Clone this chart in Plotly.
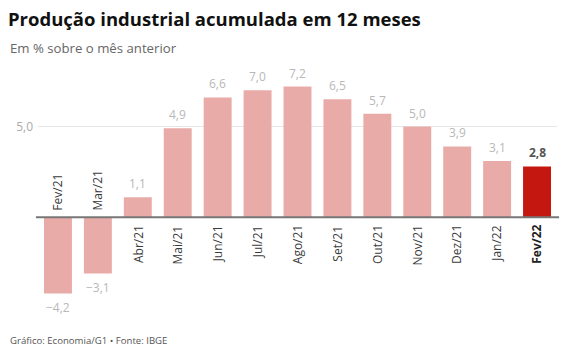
import plotly.graph_objects as go

categories = ["Fev/21", "Mar/21", "Abr/21", "Mai/21", "Jun/21", "Jul/21", "Ago/21",
              "Set/21", "Out/21", "Nov/21", "Dez/21", "Jan/22", "Fev/22"]
values = [-4.2, -3.1, 1.1, 4.9, 6.6, 7.0, 7.2, 6.5, 5.7, 5.0, 3.9, 3.1, 2.8]
highlight = "Fev/22"
tick_values = [5]
tick_labels = ["5,0"]

FONT = "Open Sans"
base_color = "#e8aba8"
hi_color = "#c3170f"

colors = [hi_color if c == highlight else base_color for c in categories]

def fmt(v):
    return f"{v:.1f}".replace(".", ",").replace("-", "\u2212")

fig = go.Figure()
fig.add_trace(go.Bar(x=categories, y=values, marker=dict(color=colors, line=dict(width=0)),
                     hoverinfo="skip", showlegend=False))

annotations = []
for c, v in zip(categories, values):
    is_hi = c == highlight
    annotations.append(dict(
        x=c, y=v, xref="x", yref="y", text=(f"<b>{fmt(v)}</b>" if is_hi else fmt(v)),
        showarrow=False, yanchor="bottom" if v >= 0 else "top",
        yshift=3 if v >= 0 else -4,
        font=dict(family=FONT, size=12, color="#555555" if is_hi else "#b8b8b8")))
    annotations.append(dict(
        x=c, y=0, xref="x", yref="y", text=(f"<b>{c}</b>" if is_hi else c),
        showarrow=False, textangle=-90,
        yanchor="top" if v >= 0 else "bottom",
        yshift=-6 if v >= 0 else 5,
        font=dict(family=FONT, size=12, color="#222222" if is_hi else "#3a3a3a")))

L, R, T, B = 38, 10, 63, 38.4
pw = 567 - L - R
def px_to_paper(px):
    return (px - L) / pw

annotations.append(dict(xref="paper", yref="paper", x=px_to_paper(8), y=1, yshift=T - 48,
                        text="Em % sobre o mês anterior", showarrow=False, xanchor="left", yanchor="middle",
                        font=dict(family=FONT, size=13.2, color="#666666")))
annotations.append(dict(xref="paper", yref="paper", x=px_to_paper(8), y=0, yshift=-(340 - (355 - B)),
                        text="Gráfico: Economia/G1 • Fonte: IBGE", showarrow=False, xanchor="left", yanchor="middle",
                        font=dict(family=FONT, size=9.6, color="#555555")))

fig.update_layout(
    width=567, height=355,
    margin=dict(l=L, r=R, t=T, b=B, pad=0),
    paper_bgcolor="white", plot_bgcolor="white",
    bargap=0.3,
    separators=",.",
    title=dict(text="<b>Produção industrial acumulada em 12 meses</b>", xref="container", yref="container",
               x=8 / 567, xanchor="left", y=1 - 20 / 355, yanchor="middle",
               font=dict(family=FONT, size=18.5, color="#111111")),
    xaxis=dict(showticklabels=False, showgrid=False, zeroline=False, showline=False, ticks=""),
    yaxis=dict(range=[-5.5, 8.5], tickvals=tick_values, ticktext=tick_labels, showgrid=True,
               gridcolor="#e6e6e6", gridwidth=1, zeroline=False, showline=False, ticks="",
               tickfont=dict(family=FONT, size=12, color="#aaaaaa"), ticklabelstandoff=4),
    annotations=annotations,
    shapes=[dict(type="line", xref="paper", yref="y", x0=-0.004, x1=1.004, y0=0, y1=0,
                 line=dict(color="#777777", width=2), layer="above")],
    font=dict(family=FONT),
)

fig.write_html("out.html", config={"displayModeBar": False},
               post_script="document.body.style.margin='0';")
